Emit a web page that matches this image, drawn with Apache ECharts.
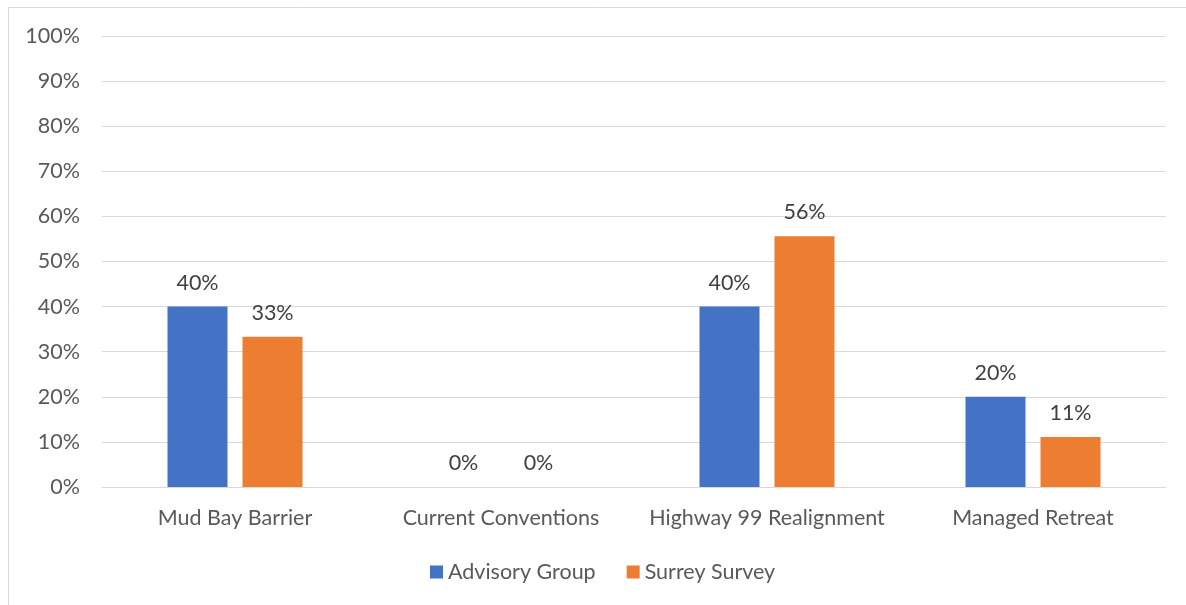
<!DOCTYPE html>
<html>
<head>
<meta charset="utf-8">
<script src="https://cdn.jsdelivr.net/npm/echarts@6/dist/echarts.min.js"></script>
<style>
html,body{margin:0;padding:0;background:#fff;}
#c{width:1186px;height:605px;}
</style>
</head>
<body>
<div id="c"></div>
<script>
var categories = ['Mud Bay Barrier', 'Current Conventions', 'Highway 99 Realignment', 'Managed Retreat'];
var advisoryGroup = [40, 0, 40, 20];
var surreySurvey = [33.3, 0, 55.6, 11.1];
var seriesNames = ['Advisory Group', 'Surrey Survey'];

var font = 'Lato, "Open Sans", sans-serif';
var fs = 21.5;
var chart = echarts.init(document.getElementById('c'), null, {renderer: 'canvas'});
var labelCfg = {
  show: true, position: 'top', distance: 13,
  color: '#404040', fontSize: fs, fontFamily: font,
  formatter: function (p) { return Math.round(p.value) + '%'; }
};
chart.setOption({
  animation: false,
  backgroundColor: '#fff',
  graphic: [{
    type: 'rect', silent: true,
    shape: {x: 8.5, y: 7.5, width: 1200, height: 700},
    style: {fill: 'none', stroke: '#d9d9d9', lineWidth: 1}
  }],
  grid: {left: 102, right: 20, top: 36, bottom: 118},
  legend: {
    data: seriesNames, bottom: 17, left: 425,
    icon: 'rect', itemWidth: 13, itemHeight: 13, itemGap: 31, itemStyle: {borderWidth: 0},
    textStyle: {color: '#595959', fontSize: fs, fontFamily: font}
  },
  xAxis: {
    type: 'category', data: categories,
    axisLine: {lineStyle: {color: '#d9d9d9'}},
    axisTick: {show: false},
    axisLabel: {color: '#595959', fontSize: fs, fontFamily: font, margin: 20, interval: 0}
  },
  yAxis: {
    type: 'value', min: 0, max: 100, interval: 10,
    axisLine: {show: false}, axisTick: {show: false},
    splitLine: {lineStyle: {color: '#d9d9d9', width: 1}},
    axisLabel: {formatter: '{value}%', color: '#595959', fontSize: fs, fontFamily: font, margin: 22}
  },
  series: [
    {name: seriesNames[0], type: 'bar', data: advisoryGroup, barWidth: 60, barGap: '25%',
     itemStyle: {color: '#4472c4'}, label: labelCfg},
    {name: seriesNames[1], type: 'bar', data: surreySurvey, barWidth: 60, barGap: '25%',
     itemStyle: {color: '#ed7d31'}, label: labelCfg}
  ]
});
</script>
</body>
</html>
